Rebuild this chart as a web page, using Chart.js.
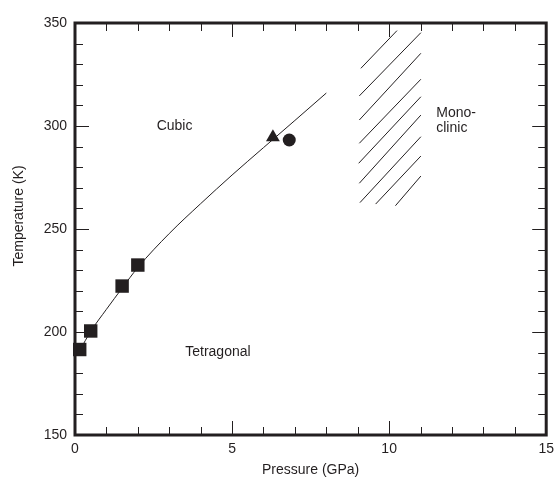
<!DOCTYPE html>
<html>
<head>
<meta charset="utf-8">
<script src="https://cdn.jsdelivr.net/npm/chart.js@4.4.0/dist/chart.umd.min.js"></script>
<style>
  html, body { margin: 0; padding: 0; background: #fff; }
  #wrap { width: 560px; height: 479px; }
</style>
</head>
<body>
<div id="wrap"><canvas id="phaseChart" width="560" height="479"></canvas></div>
<script>
// phase boundary (pressure in GPa, temperature in K)
const curveP = [0.15, 0.5, 1.0, 1.5, 2.0, 3.0, 4.0, 5.0, 6.0, 7.0, 8.0];
const curveT = [191, 200.3, 211, 221.3, 231.3, 247.8, 262.3, 276.2, 289.5, 302.7, 316];

// measured points
const squareP = [0.15, 0.5, 1.5, 2.0];
const squareT = [191.5, 200.5, 222.3, 232.5];
const triangleP = [6.3];
const triangleT = [294.5];
const circleP = [6.82];
const circleT = [293.2];

// hatched region, one segment per entry
const hatchP0 = [9.10, 9.05, 9.05, 9.05, 9.03, 9.05, 9.07, 9.57, 10.2];
const hatchT0 = [328.0, 314.6, 302.9, 291.6, 281.9, 272.2, 262.8, 262.1, 261.3];
const hatchP1 = [10.25, 11.01, 11.01, 11.01, 11.01, 11.01, 11.01, 11.01, 11.01];
const hatchT1 = [346.3, 345.3, 335.3, 322.7, 314.2, 305.3, 294.8, 285.4, 275.7];

// region labels
const regionText = ["Cubic", "Tetragonal", "Mono-", "clinic"];
const regionP = [3.17, 4.55, 11.5, 11.5];
const regionT = [300, 190.3, 306.2, 298.9];
const regionAlign = ["center", "center", "left", "left"];

const xTicks = [0, 5, 10, 15];
const yTicks = [150, 200, 250, 300, 350];

const ink = "#231f20";
const font = "'Liberation Sans', Arial, sans-serif";

const toXY = (ps, ts) => ps.map((p, i) => ({ x: p, y: ts[i] }));

// build hatch data with gaps between segments
const hatchData = [];
hatchP0.forEach((p, i) => {
  hatchData.push({ x: p, y: hatchT0[i] });
  hatchData.push({ x: hatchP1[i], y: hatchT1[i] });
  hatchData.push({ x: NaN, y: null });
});

// frame, inward ticks, region labels and y title
const framePlugin = {
  id: "frame",
  afterDraw(chart) {
    const { ctx, chartArea: a, scales: { x, y } } = chart;
    ctx.save();
    ctx.strokeStyle = ink;

    // minor + major ticks on all four sides
    ctx.lineWidth = 1;
    ctx.beginPath();
    for (let v = x.min; v <= x.max; v += 1) {
      const px = Math.round(x.getPixelForValue(v)) + 0.5;
      const len = v % 5 === 0 ? 14 : 8;
      ctx.moveTo(px, a.bottom); ctx.lineTo(px, a.bottom - len);
      ctx.moveTo(px, a.top); ctx.lineTo(px, a.top + len);
    }
    for (let v = y.min; v <= y.max; v += 10) {
      const py = Math.round(y.getPixelForValue(v)) + 0.5;
      const len = v % 50 === 0 ? 14 : 8;
      ctx.moveTo(a.left, py); ctx.lineTo(a.left + len, py);
      ctx.moveTo(a.right, py); ctx.lineTo(a.right - len, py);
    }
    ctx.stroke();

    // thick box
    ctx.lineWidth = 3;
    ctx.strokeRect(a.left, a.top, a.right - a.left, a.bottom - a.top);

    // region labels
    ctx.fillStyle = ink;
    ctx.font = "14px " + font;
    ctx.textBaseline = "middle";
    regionText.forEach((t, i) => {
      ctx.textAlign = regionAlign[i];
      ctx.fillText(t, x.getPixelForValue(regionP[i]), y.getPixelForValue(regionT[i]));
    });

    // y axis title
    ctx.translate(19, 216);
    ctx.rotate(-Math.PI / 2);
    ctx.textAlign = "center";
    ctx.fillText("Temperature (K)", 0, 0);
    ctx.restore();
  }
};

new Chart(document.getElementById("phaseChart"), {
  type: "scatter",
  data: {
    datasets: [
      {
        type: "line",
        data: toXY(curveP, curveT),
        borderColor: ink,
        borderWidth: 1,
        pointRadius: 0,
        cubicInterpolationMode: "monotone",
        fill: false
      },
      {
        type: "line",
        data: hatchData,
        borderColor: ink,
        borderWidth: 1,
        pointRadius: 0,
        spanGaps: false,
        fill: false
      },
      {
        data: toXY(squareP, squareT),
        pointStyle: "rect",
        pointRadius: 9.5,
        backgroundColor: ink,
        borderColor: ink,
        borderWidth: 0,
        clip: false
      },
      {
        data: toXY(triangleP, triangleT),
        pointStyle: "triangle",
        pointRadius: 8,
        backgroundColor: ink,
        borderColor: ink,
        borderWidth: 0
      },
      {
        data: toXY(circleP, circleT),
        pointStyle: "circle",
        pointRadius: 6.5,
        backgroundColor: ink,
        borderColor: ink,
        borderWidth: 0
      }
    ]
  },
  options: {
    responsive: false,
    animation: false,
    events: [],
    layout: { padding: { left: 0, right: 7, top: 23, bottom: 0 } },
    plugins: {
      legend: { display: false },
      tooltip: { enabled: false }
    },
    scales: {
      x: {
        type: "linear",
        min: 0,
        max: 15,
        afterBuildTicks: s => { s.ticks = xTicks.map(v => ({ value: v })); },
        afterFit: s => { s.height = 44; },
        grid: { display: false, drawTicks: false },
        border: { display: false },
        ticks: { color: ink, font: { family: font, size: 14 }, padding: 6, maxRotation: 0 },
        title: {
          display: true,
          text: "Pressure (GPa)",
          color: ink,
          font: { family: font, size: 14 },
          padding: { top: 0, bottom: 0 }
        }
      },
      y: {
        type: "linear",
        min: 150,
        max: 350,
        afterBuildTicks: s => { s.ticks = yTicks.map(v => ({ value: v })); },
        afterFit: s => { s.width = 75; },
        grid: { display: false, drawTicks: false },
        border: { display: false },
        ticks: { color: ink, font: { family: font, size: 14 }, padding: 8 }
      }
    }
  },
  plugins: [framePlugin]
});
</script>
</body>
</html>
